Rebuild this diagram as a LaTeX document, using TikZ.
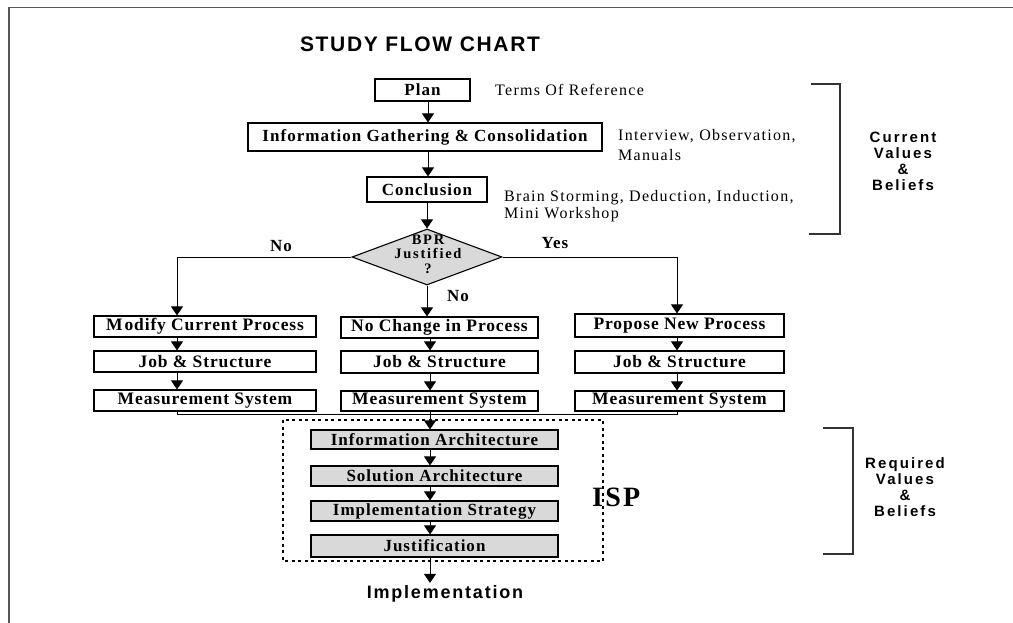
\documentclass[tikz,border=0pt]{standalone}
\usepackage{fontspec}
\setmainfont{Liberation Serif}
\newfontfamily\boxfont[LetterSpace=6]{Liberation Serif}
\newfontfamily\diafont[LetterSpace=12]{Liberation Serif}
\newfontfamily\colfont[LetterSpace=5]{Liberation Serif}
\newfontfamily\notefont[LetterSpace=8]{Liberation Serif}
\newfontfamily\sidefont[LetterSpace=14]{Liberation Sans}
\newfontfamily\headfont[LetterSpace=8]{Liberation Sans}
\newfontfamily\implfont[LetterSpace=10]{Liberation Sans}
\newfontfamily\ispfont[LetterSpace=8]{Liberation Serif}
\usetikzlibrary{arrows.meta,shapes.geometric}
\definecolor{boxgray}{HTML}{D9D9D9}
\definecolor{framegray}{HTML}{555555}
\begin{document}
\begin{tikzpicture}[x=1pt,y=-1pt,
  topbox/.style={draw, line width=1.1pt, inner sep=0pt,
    font=\boxfont\bfseries\fontsize{17}{19}\selectfont},
  colbox/.style={draw, line width=1.1pt, inner sep=0pt,
    font=\colfont\bfseries\fontsize{17.5}{19}\selectfont},
  ispbox/.style={draw, line width=1.1pt, fill=boxgray, inner sep=0pt,
    font=\boxfont\bfseries\fontsize{17}{19}\selectfont},
  conn/.style={line width=1pt},
  arr/.style={conn, -{Triangle[width=12pt,length=9pt]}},
  note/.style={anchor=west, align=left, inner sep=0pt,
    font=\notefont\fontsize{16}{18}\selectfont},
  yesno/.style={inner sep=0pt, font=\boxfont\bfseries\fontsize{17}{19}\selectfont},
  sidelabel/.style={align=center, inner sep=0pt,
    font=\sidefont\bfseries\fontsize{15}{16}\selectfont},
  bracket/.style={draw=black!80, line width=1.2pt},
  dotbox/.style={draw, line width=1.6pt, dash pattern=on 3pt off 3.5pt},
]
\useasboundingbox (0,0) rectangle (1013,623);
% frame
\draw[framegray, line width=1.5pt] (9,623) -- (9,7.5) -- (1013,7.5);

% title
\node[inner sep=0pt, font=\headfont\bfseries\fontsize{21}{23}\selectfont] (title) at (420,44) {STUDY FLOW CHART};

% spine coordinates
\coordinate (sx) at (428,0);
\coordinate (cl) at (177,0);
\coordinate (cm) at (430,0);
\coordinate (cr) at (677,0);

% top chain
\node[topbox, minimum width=95pt, minimum height=22pt] (plan) at (422.5,90) {Plan};
\node[topbox, minimum width=354pt, minimum height=28pt] (info) at (425,137) {Information Gathering \& Consolidation};
\node[topbox, minimum width=120pt, minimum height=25pt] (concl) at (427,189.5) {Conclusion};
\node[diamond, draw, line width=1.1pt, fill=boxgray, inner sep=0pt,
      minimum width=150pt, minimum height=56pt] (dia) at (427,257) {};
\node[inner sep=0pt, align=center, font=\diafont\bfseries\fontsize{14.5}{14.5}\selectfont] (diatext) at (428,254) {BPR\\Justified\\?};

% side notes
\node[note] (n1) at (495,90) {Terms Of Reference};
\node[note, font=\notefont\fontsize{16}{20}\selectfont] (n2) at (618,145) {Interview, Observation,\\Manuals};
\node[note, font=\notefont\fontsize{16}{17}\selectfont] (n3) at (504,206) {Brain Storming, Deduction, Induction,\\Mini Workshop};

% columns
\node[colbox, minimum width=222pt, minimum height=21pt] (mod) at (205,326.5) {M\kern2pt odify Current Process};
\node[colbox, minimum width=222pt, minimum height=21pt] (job1) at (205,361.5) {Job \& Structure};
\node[colbox, minimum width=222pt, minimum height=21pt] (meas1) at (205,400.5) {Measurement System};

\node[colbox, minimum width=197pt, minimum height=21pt] (nochg) at (439.5,327.5) {No Change in Process};
\node[colbox, minimum width=197pt, minimum height=22pt] (job2) at (439.5,362) {Job \& Structure};
\node[colbox, minimum width=197pt, minimum height=20pt] (meas2) at (439.5,401) {Measurement System};

\node[colbox, minimum width=209pt, minimum height=23pt] (prop) at (679.5,325.5) {Propose New Process};
\node[colbox, minimum width=209pt, minimum height=22pt] (job3) at (679.5,362) {Job \& Structure};
\node[colbox, minimum width=209pt, minimum height=20pt] (meas3) at (679.5,401) {Measurement System};

% ISP block
\draw[dotbox] (283,420) rectangle (603,561);
\node[ispbox, minimum width=247pt, minimum height=19pt] (ia) at (434.5,439.5) {Information Architecture};
\node[ispbox, minimum width=247pt, minimum height=20pt] (sa) at (434.5,476) {Solution Architecture};
\node[ispbox, minimum width=247pt, minimum height=20pt] (is) at (434.5,511) {Implementation Strategy};
\node[ispbox, minimum width=247pt, minimum height=22pt] (just) at (434.5,546) {Justification};
\node[anchor=west, inner sep=0pt, font=\ispfont\bfseries\fontsize{28}{30}\selectfont] (isp) at (592,497) {ISP};
\node[inner sep=2.5pt, font=\implfont\bfseries\fontsize{18}{20}\selectfont] (impl) at (445,594) {Implementation};

% connectors top
\draw[arr] (plan.south -| sx) -- (info.north -| sx);
\draw[arr] (info.south -| sx) -- (concl.north -| sx);
\draw[arr] (concl.south -| dia.north) -- (dia.north);

% decision branches
\draw[arr] (dia.west) -| (mod.north -| cl);
\draw[arr] (dia.east) -| (prop.north -| cr);
\draw[arr] (dia.south) -- (nochg.north -| dia.south);
\node[yesno] (lno) at (281,246) {No};
\node[yesno] (lyes) at (555,243) {Yes};
\node[yesno] (mno) at (458,296) {No};

% column arrows
\draw[arr] (mod.south -| cl) -- (job1.north -| cl);
\draw[arr] (job1.south -| cl) -- (meas1.north -| cl);
\draw[arr] (nochg.south -| cm) -- (job2.north -| cm);
\draw[arr] (job2.south -| cm) -- (meas2.north -| cm);
\draw[arr] (prop.south -| cr) -- (job3.north -| cr);
\draw[arr] (job3.south -| cr) -- (meas3.north -| cr);

% merge
\coordinate (mrg) at (430,414);
\draw[conn] (meas1.south -| cl) |- (mrg);
\draw[conn] (meas3.south -| cr) |- (mrg);
\draw[arr] (meas2.south -| cm) -- (ia.north -| cm);

% ISP arrows
\draw[arr] (ia.south -| cm) -- (sa.north -| cm);
\draw[arr] (sa.south -| cm) -- (is.north -| cm);
\draw[arr] (is.south -| cm) -- (just.north -| cm);
\draw[arr] (just.south -| cm) -- (impl.north -| cm);

% brackets
\draw[bracket] (811,84) -- (840,84) -- (840,234) -- (809,234);
\draw[bracket] (823,428) -- (853,428) -- (853,554) -- (823,554);
\node[sidelabel] (cur) at (903,161) {Current\\Values\\\&\\Beliefs};
\node[sidelabel] (req) at (905,487) {Required\\Values\\\&\\Beliefs};
\end{tikzpicture}
\end{document}
